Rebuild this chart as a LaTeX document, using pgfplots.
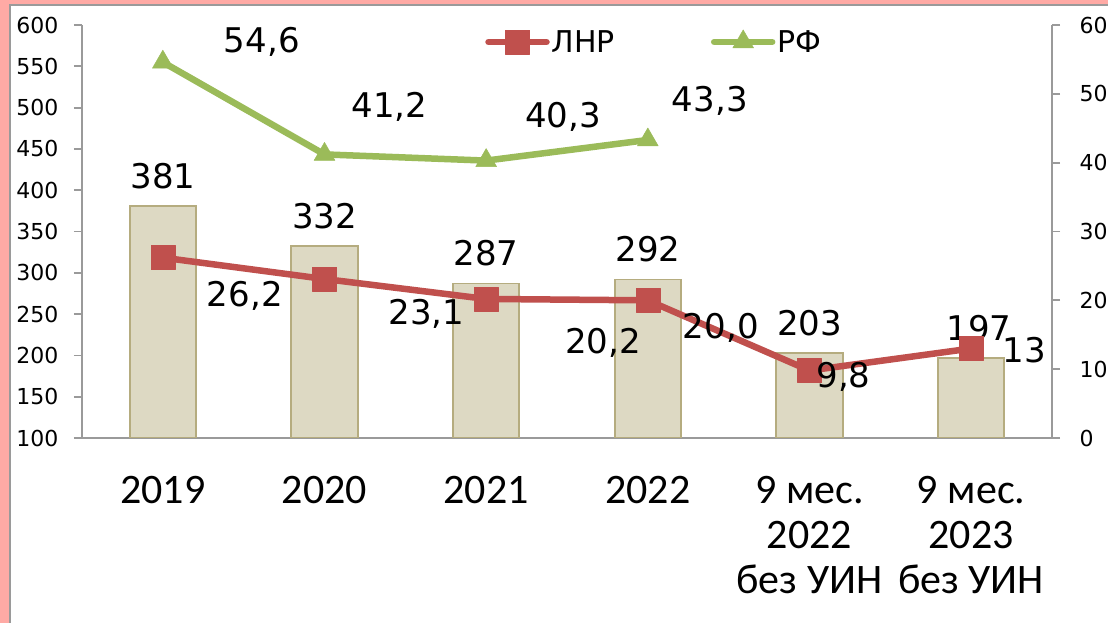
\documentclass[border=0pt]{standalone}
\usepackage{fontspec}
\setmainfont{DejaVu Sans}
\newfontfamily\calfont{Carlito}
\usepackage{pgfplots}
\pgfplotsset{compat=1.18}
\usepackage{pgfplotstable}
\pgfplotsset{/pgf/number format/assume math mode=true}

\definecolor{pinkbg}{HTML}{FFAAA5}
\definecolor{barfill}{HTML}{DDD9C3}
\definecolor{bardraw}{HTML}{B5AC7F}
\definecolor{lnr}{HTML}{C0504D}
\definecolor{rf}{HTML}{9BBB59}
\definecolor{axgray}{HTML}{9A9A9A}

\pgfplotstableread{
x y dx
0 381 0
1 332 0
2 287 0
3 292 0
4 203 0
5 197 8
}\bars

\pgfplotstableread{
x y lab dx dy
0 26.2 {26,2} 82 -38
1 23.1 {23,1} 102 -35
2 20.2 {20,2} 117 -44
3 20.0 {20,0} 73 -28
4 9.8 {9,8} 34 -6
5 13 {13} 53 -2
}\lnrtab

\pgfplotstableread{
x y lab dx dy
0 54.6 {54,6} 99 20
1 41.2 {41,2} 65 48
2 40.3 {40,3} 77 44
3 43.3 {43,3} 62 39
}\rftab

\begin{document}
\begin{tikzpicture}
\path[use as bounding box] (0bp,0bp) rectangle (1108bp,623bp);
\fill[pinkbg] (0bp,0bp) rectangle (1108bp,623bp);
\fill[white] (10bp,-5bp) rectangle (1115bp,618bp);
\draw[axgray, line width=1.5bp] (10bp,-5bp) -- (10bp,618bp) -- (1115bp,618bp);

\begin{axis}[
  at={(82bp,185bp)}, anchor=south west,
  scale only axis, width=970bp, height=413bp,
  xmin=-0.5, xmax=5.5, ymin=100, ymax=600,
  axis x line*=bottom, axis y line*=left,
  axis line style={axgray, line width=1.8bp},
  tick align=outside, major tick length=8bp,
  every tick/.style={axgray, line width=1.8bp},
  ytick={100,150,...,600},
  yticklabel style={font=\fontsize{22bp}{26bp}\selectfont, text=black, xshift=-12bp},
  xtick={0,...,5},
  xticklabels={2019,2020,2021,2022,{9 мес.\\2022\\без УИН},{9 мес.\\2023\\без УИН}},
  xticklabel style={align=center, font=\calfont\fontsize{42bp}{45bp}\selectfont, text=black, anchor=north, yshift=-27bp},
  major x tick style={draw=none},
  extra x ticks={-0.5,0.5,1.5,2.5,3.5,4.5,5.5},
  extra x tick labels={},
  extra x tick style={major tick length=11bp, major x tick style={axgray, line width=1.8bp}},
  clip mode=individual,
]
\addplot[ybar, bar width=0.41, fill=barfill, draw=bardraw, line width=1.8bp,
  nodes near coords,
  visualization depends on={\thisrow{dx} \as \dx},
  every node near coord/.append style={font=\fontsize{34bp}{40bp}\selectfont, text=black, anchor=center, yshift=30bp, xshift=\dx*1bp}]
  table[x=x,y=y]{\bars};
\end{axis}

\begin{axis}[
  at={(82bp,185bp)}, anchor=south west,
  scale only axis, width=970bp, height=413bp,
  xmin=-0.5, xmax=5.5, ymin=0, ymax=60,
  axis x line=none, axis y line*=right,
  axis line style={axgray, line width=1.8bp},
  tick align=outside, major tick length=8bp,
  every tick/.style={axgray, line width=1.8bp},
  ytick={0,10,...,60},
  yticklabel style={font=\fontsize{22bp}{26bp}\selectfont, text=black, xshift=16bp},
  clip=false,
  legend columns=2,
  legend style={draw=none, fill=none, at={(0.59,0.959)}, anchor=center,
    font=\fontsize{30bp}{34bp}\selectfont,
    /tikz/every even column/.append style={column sep=94bp}},
  legend image code/.code={\draw[mark repeat=2,mark phase=2,#1] plot coordinates {(0bp,0bp) (29bp,0bp) (58bp,0bp)};},
]
\addplot[lnr, line width=6.5bp, line cap=round, line join=round,
  mark=square*, mark size=12bp, mark options={solid, line width=0.5bp},
  nodes near coords, point meta=explicit symbolic,
  visualization depends on={\thisrow{dx} \as \dx},
  visualization depends on={\thisrow{dy} \as \dy},
  every node near coord/.append style={font=\fontsize{34bp}{40bp}\selectfont, text=black, anchor=center, xshift=\dx*1bp, yshift=\dy*1bp}]
  table[x=x,y=y,meta=lab]{\lnrtab};
\addlegendentry{ЛНР}
\addplot[rf, line width=6.5bp, line cap=round, line join=round,
  mark=triangle*, mark size=12bp, mark options={solid, line width=0.5bp},
  nodes near coords, point meta=explicit symbolic,
  visualization depends on={\thisrow{dx} \as \dx},
  visualization depends on={\thisrow{dy} \as \dy},
  every node near coord/.append style={font=\fontsize{34bp}{40bp}\selectfont, text=black, anchor=center, xshift=\dx*1bp, yshift=\dy*1bp}]
  table[x=x,y=y,meta=lab]{\rftab};
\addlegendentry{РФ}
\end{axis}
\end{tikzpicture}
\end{document}
